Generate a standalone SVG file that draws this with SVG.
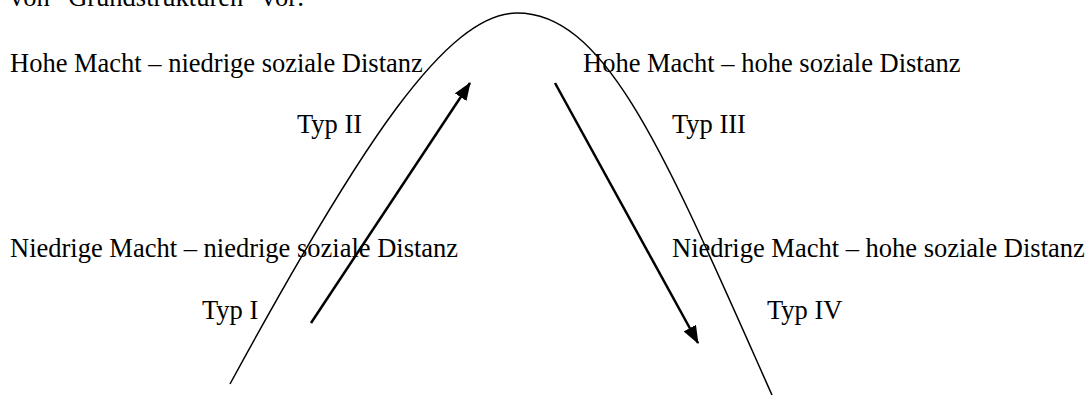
<svg xmlns="http://www.w3.org/2000/svg" width="1090" height="396" viewBox="0 0 1090 396">
<style>
.t{font-family:"Liberation Serif","Times New Roman",serif;font-size:26.5px;fill:#000}
.curve{fill:none;stroke:#000;stroke-width:1.5}
.arr{fill:none;stroke:#000;stroke-width:2.5}
</style>
<defs>
<marker id="ah" markerUnits="userSpaceOnUse" markerWidth="18" markerHeight="14" refX="17" refY="7" orient="auto">
<path d="M0,0 L18,7 L0,14 z" fill="#000"/>
</marker>
</defs>
<rect width="1090" height="396" fill="#fff"/>
<text class="t" x="10" y="6">von “Grundstrukturen” vor:</text>
<g id="curve-group">
<path class="curve" d="M230,384 C360.6,144 447,13 517,13 C607,13 665,155 772,395"/>
</g>
<g id="connectors">
<line class="arr" x1="311" y1="323" x2="470" y2="83" marker-end="url(#ah)"/>
<line class="arr" x1="555" y1="83" x2="698" y2="343" marker-end="url(#ah)"/>
</g>
<g id="node-hoch-niedrig"><text class="t" x="10" y="72">Hohe Macht – niedrige soziale Distanz</text></g>
<g id="node-hoch-hoch"><text class="t" x="583" y="72">Hohe Macht – hohe soziale Distanz</text></g>
<g id="node-typ2"><text class="t" x="297" y="133">Typ II</text></g>
<g id="node-typ3"><text class="t" x="672" y="133">Typ III</text></g>
<g id="node-niedrig-niedrig"><text class="t" x="10" y="257">Niedrige Macht – niedrige soziale Distanz</text></g>
<g id="node-niedrig-hoch"><text class="t" x="672" y="257">Niedrige Macht – hohe soziale Distanz</text></g>
<g id="node-typ1"><text class="t" x="202" y="319">Typ I</text></g>
<g id="node-typ4"><text class="t" x="767" y="319">Typ IV</text></g>
</svg>
